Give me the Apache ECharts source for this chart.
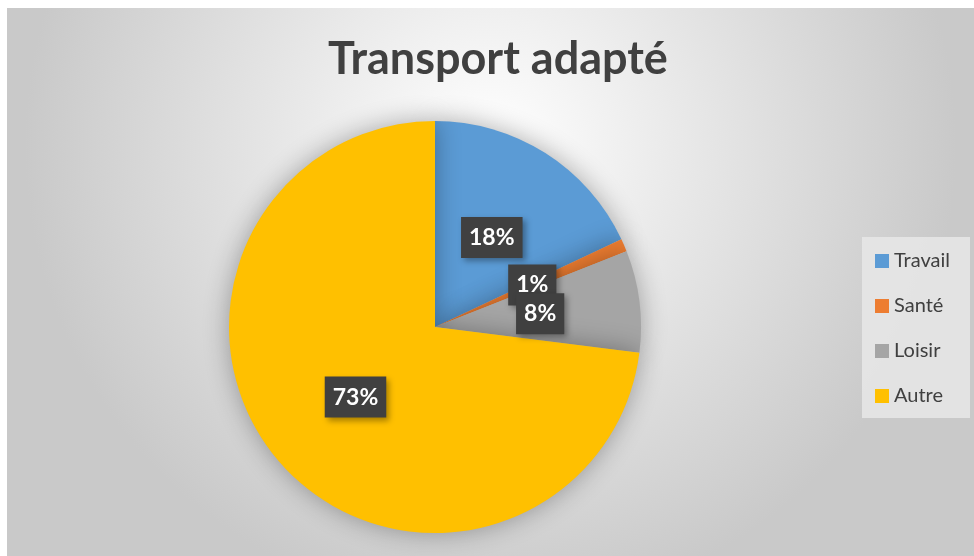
<!DOCTYPE html>
<html>
<head>
<meta charset="utf-8">
<script src="https://cdn.jsdelivr.net/npm/echarts@6/dist/echarts.min.js"></script>
<style>
  html, body { margin: 0; padding: 0; background: #fff; }
  #chart { position: absolute; left: 7px; top: 8px; width: 967px; height: 548px; }
</style>
</head>
<body>
<div id="chart"></div>
<script>
// données
let categories = ['Travail', 'Santé', 'Loisir', 'Autre']
let values = [18, 1, 8, 73]
let colors = ['#5b9bd5', '#ed7d31', '#a5a5a5', '#ffc000']

let font = 'Lato, "Open Sans", sans-serif'

let myChart = echarts.init(document.getElementById('chart'))
myChart.setOption({
  backgroundColor: {
    type: 'radial', x: 0.5, y: 0.25, r: 0.85,
    colorStops: [
      {offset: 0, color: '#ffffff'},
      {offset: 1, color: '#c9c9c9'}
    ]
  },
  color: colors,
  title: {
    text: 'Transport adapté',
    left: 316,
    top: 24,
    textStyle: {fontFamily: font, fontSize: 45, fontWeight: 'bold', color: '#404040'}
  },
  legend: {
    orient: 'vertical',
    left: 855,
    top: 229,
    padding: [14, 20, 12, 13],
    itemWidth: 14,
    itemHeight: 14,
    itemGap: 25,
    icon: 'rect',
    backgroundColor: 'rgba(232,232,232,0.85)',
    textStyle: {fontFamily: font, fontSize: 20, color: '#404040'},
    data: categories
  },
  series: [{
    type: 'pie',
    center: [428, 319],
    radius: 206,
    startAngle: 90,
    clockwise: true,
    silent: true,
    labelLayout: {hideOverlap: false},
    itemStyle: {
      shadowBlur: 26,
      shadowColor: 'rgba(0,0,0,0.32)'
    },
    label: {
      show: true,
      position: 'inside',
      formatter: '{d}%',
      fontFamily: font,
      fontSize: 23,
      fontWeight: 'bold',
      color: '#ffffff',
      backgroundColor: '#404040',
      padding: [10, 8, 8, 8],
      shadowBlur: 6,
      shadowOffsetX: 3,
      shadowOffsetY: 3,
      shadowColor: 'rgba(0,0,0,0.35)'
    },
    labelLine: {show: false},
    data: categories.map((c, i) => ({name: c, value: values[i]}))
  }]
})
</script>
</body>
</html>
